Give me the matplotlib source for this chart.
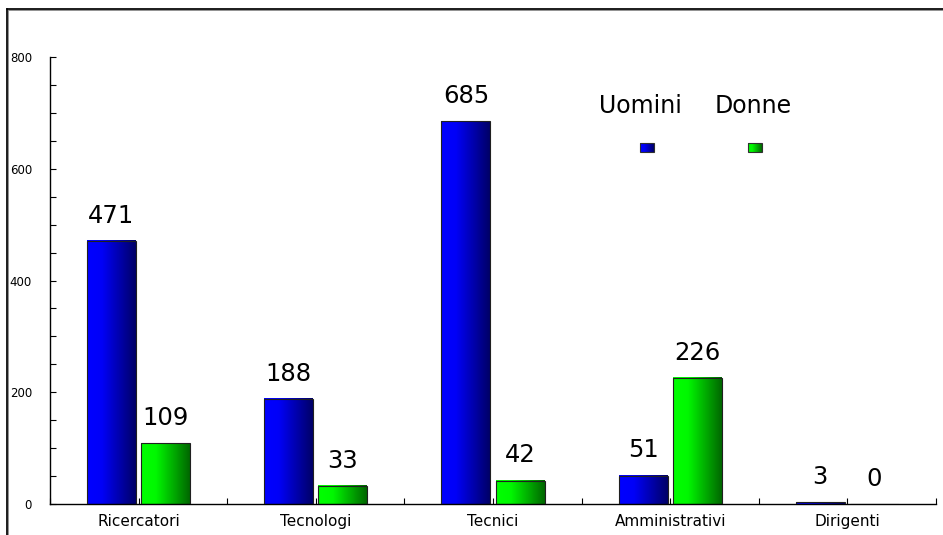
import numpy as np
import matplotlib
matplotlib.use('Agg')
from matplotlib import pyplot as plt
from matplotlib.colors import LinearSegmentedColormap
from matplotlib.lines import Line2D

# data
categories = ["Ricercatori", "Tecnologi", "Tecnici", "Amministrativi", "Dirigenti"]
uomini = [471, 188, 685, 51, 3]
donne = [109, 33, 42, 226, 0]
series_names = ["Uomini", "Donne"]

plt.rcParams['font.family'] = ['DejaVu Sans']

blue_cmap = LinearSegmentedColormap.from_list(
    'blu', [(0.0, '#0000ff'), (0.3, '#0000f8'), (1.0, '#000068')])
green_cmap = LinearSegmentedColormap.from_list(
    'verde', [(0.0, '#00ff00'), (0.3, '#00f800'), (1.0, '#006800')])
grad = np.linspace(0, 1, 64).reshape(1, -1)

W, H = 943, 535
fig = plt.figure(figsize=(W / 100, H / 100), dpi=100)
ax = fig.add_axes([50 / W, 31 / H, 886 / W, 447 / H])

x = np.arange(len(categories))
bw = 0.276
off = 0.153


def gradient_bars(xs, vals, cmap):
    bars = ax.bar(xs, vals, width=bw, facecolor='none', edgecolor='#202020',
                  linewidth=0.8, zorder=3)
    for b in bars:
        x0, y0 = b.get_x(), b.get_y()
        w, h = b.get_width(), b.get_height()
        if h <= 0:
            continue
        ax.imshow(grad, extent=[x0, x0 + w, y0, y0 + h], aspect='auto',
                  cmap=cmap, zorder=2, interpolation='bilinear')
    for xi, v in zip(xs, vals):
        ax.annotate(str(v), (xi, v), xytext=(0, 13), textcoords='offset points',
                    ha='center', va='baseline', fontsize=17.5, color='black')
    return bars


gradient_bars(x - off, uomini, blue_cmap)
gradient_bars(x + off, donne, green_cmap)

ax.set_xlim(-0.5, len(categories) - 0.5)
ax.set_ylim(0, 800)
ax.set_xticks(x)
ax.set_xticklabels(categories, fontsize=11)
ax.set_xticks(np.arange(-0.5, len(categories), 1.0), minor=True)
ax.set_yticks(np.arange(0, 801, 200))
ax.set_yticks(np.arange(0, 801, 50), minor=True)
ax.tick_params(axis='y', which='both', direction='in', length=4, width=0.8,
               labelsize=8.5, pad=13)
ax.tick_params(axis='x', which='both', direction='in', length=4, width=0.8,
               pad=7)
for s in ['top', 'right']:
    ax.spines[s].set_visible(False)
for s in ['left', 'bottom']:
    ax.spines[s].set_linewidth(1.0)

# overlay in pixel units for frame and legend
ov = fig.add_axes([0, 0, 1, 1], zorder=5)
ov.set_xlim(0, W)
ov.set_ylim(H, 0)
ov.axis('off')
ov.patch.set_alpha(0)
ov.add_line(Line2D([7, W], [9, 9], color='#888888', lw=2.0))
ov.add_line(Line2D([7, 7], [9, H], color='#888888', lw=2.0))
ov.add_line(Line2D([7, W], [9, 9], color='black', lw=1.1))
ov.add_line(Line2D([7, 7], [9, H], color='black', lw=1.1))

for name, cx, cmap in [(series_names[0], 640, blue_cmap), (series_names[1], 753, green_cmap)]:
    ov.text(cx, 106, name, ha='center', va='center', fontsize=17)
    sx = cx + 7 if name == series_names[0] else cx + 2
    ov.imshow(grad, extent=[sx - 7, sx + 7, 152, 143], aspect='auto', cmap=cmap)
    ov.add_patch(plt.Rectangle((sx - 7, 143), 14, 9, facecolor='none',
                               edgecolor='#303030', lw=0.8))
ov.set_xlim(0, W)
ov.set_ylim(H, 0)

fig.savefig('out.png', dpi=100)
plt.close()
